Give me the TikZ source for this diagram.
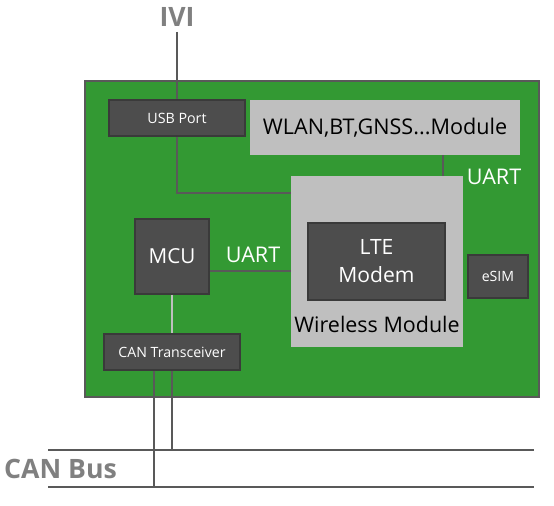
\documentclass[tikz,border=0pt]{standalone}
\usepackage{fontspec}
\setmainfont{Open Sans}
\definecolor{boardgreen}{HTML}{339933}
\definecolor{boxdark}{HTML}{4D4D4D}
\definecolor{boxedge}{HTML}{3A3A3A}
\definecolor{boxlight}{HTML}{BFBFBF}
\definecolor{wiregray}{HTML}{595959}
\definecolor{labelgray}{HTML}{808080}
\tikzset{
  darkbox/.style={fill=boxdark, draw=boxedge, line width=1pt, text=white, inner sep=0pt},
  lightbox/.style={fill=boxlight, draw=none, inner sep=0pt},
  wire/.style={draw=wiregray, line width=1.7pt},
  tag/.style={text=labelgray, font=\bfseries\fontsize{20}{24}\selectfont}
}
\begin{document}
\begin{tikzpicture}[x=0.75pt, y=-0.75pt]
        \useasboundingbox (0,0) rectangle (554,506);
        % board
        \node[fill=boardgreen, draw=wiregray, line width=1.2pt, minimum width=454*0.75pt, minimum height=316*0.75pt] (board) at (312,239) {};
        % boxes
        \node[darkbox, minimum width=136*0.75pt, minimum height=36*0.75pt, font=\fontsize{10.7}{13}\selectfont] (usb) at (177,118) {USB Port};
        \node[lightbox, minimum width=270*0.75pt, minimum height=55*0.75pt, font=\fontsize{16.2}{19}\selectfont] (wlan) at (385,127.5) {WLAN,BT,GNSS...Module};
        \node[lightbox, minimum width=172*0.75pt, minimum height=171*0.75pt] (wireless) at (377,261.5) {};
        \node[font=\fontsize{16.1}{19}\selectfont] (wirelesslabel) at (377,324) {Wireless Module};
        \node[darkbox, minimum width=137*0.75pt, minimum height=77*0.75pt, align=center, font=\fontsize{15.8}{21}\selectfont] (lte) at (376.5,261.5) {LTE\\Modem};
        \node[darkbox, minimum width=60*0.75pt, minimum height=43*0.75pt, font=\fontsize{10.6}{12}\selectfont] (esim) at (498,276.5) {eSIM};
        \node[darkbox, minimum width=74*0.75pt, minimum height=75*0.75pt, font=\fontsize{15.5}{18}\selectfont] (mcu) at (172,256.5) {MCU};
        \node[darkbox, minimum width=136*0.75pt, minimum height=36*0.75pt, font=\fontsize{10.6}{13}\selectfont] (can) at (172,352) {CAN Transceiver};
        % labels
        \node[tag] (ivi) at (177,17) {IVI};
        \node[tag] (canbus) at (60.5,469) {CAN Bus};
        \node[text=white, font=\fontsize{16.2}{19}\selectfont] (uarttop) at (494,177) {UART};
        \node[text=white, font=\fontsize{16.2}{19}\selectfont] (uartmid) at (253,255) {UART};
        % wires
        \coordinate (iviend) at (177,32);
        \coordinate (usbin) at (291,193);
        \coordinate (uartx) at (443,0);
        \coordinate (uarty) at (0,271);
        \coordinate (busaw) at (48,450);
        \coordinate (busae) at (534,450);
        \coordinate (busbw) at (48,487);
        \coordinate (busbe) at (534,487);
        \coordinate (canl) at (154,0);
        \draw[wire] (iviend) -- (usb.north);
        \draw[wire] (usb.south) |- (usbin);
        \draw[wire] (wlan.south -| uartx) -- (wireless.north -| uartx);
        \draw[wire] (mcu.east |- uarty) -- (wireless.west |- uarty);
        \draw[draw=boxlight, line width=1.7pt] (mcu.south) -- (can.north);
        \draw[wire] (busaw) -- (busae);
        \draw[wire] (busbw) -- (busbe);
        \draw[wire] (can.south) -- (can.south |- busaw);
        \draw[wire] (can.south -| canl) -- (busbw -| canl);
    \end{tikzpicture}
\end{document}
